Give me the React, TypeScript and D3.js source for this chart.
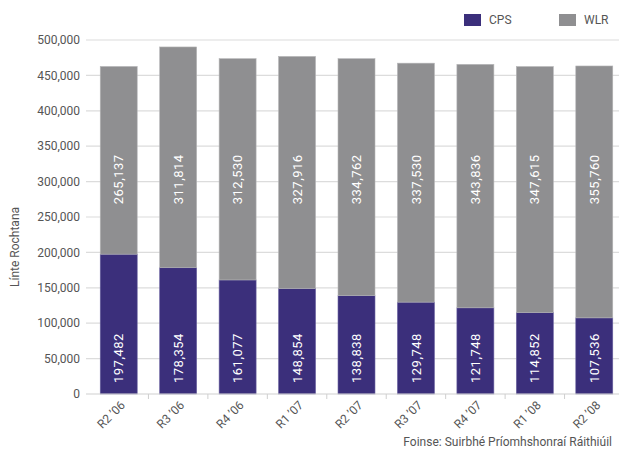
import * as d3 from "d3";
import React, { useEffect, useRef } from "react";

// data
const quarters = ["R2 ’06", "R3 ’06", "R4 ’06", "R1 ’07", "R2 ’07", "R3 ’07", "R4 ’07", "R1 ’08", "R2 ’08"];
const cpsValues = [197482, 178354, 161077, 148854, 138838, 129748, 121748, 114852, 107536];
const wlrValues = [265137, 311814, 312530, 327916, 334762, 337530, 343836, 347615, 355760];
const yTicks = [0, 50000, 100000, 150000, 200000, 250000, 300000, 350000, 400000, 450000, 500000];
const seriesNames = ["CPS", "WLR"];

const App: React.FC = () => {
  const svgRef = useRef<SVGSVGElement>(null);
  const isRender = useRef(false);

  useEffect(() => {
    if (isRender.current || !svgRef.current) return;
    isRender.current = true;

    const width = 619, height = 451;
    const font = "Roboto, 'DejaVu Sans', sans-serif";
    const textColor = "#555";
    const cpsColor = "#3b2f7b";
    const wlrColor = "#8f8f91";

    const svg = d3.select(svgRef.current)
      .attr("width", width)
      .attr("height", height)
      .style("font-family", font);

    const x = d3.scaleBand<string>()
      .domain(quarters)
      .range([89, 624])
      .paddingInner(0.378)
      .paddingOuter(0.189);

    const y = d3.scaleLinear().domain([0, 500000]).range([394, 40]);
    const fmt = d3.format(",");

    // grid lines
    svg.append("g")
      .selectAll("line")
      .data(yTicks.filter(d => d > 0))
      .enter()
      .append("line")
      .attr("x1", 86)
      .attr("x2", width)
      .attr("y1", d => y(d))
      .attr("y2", d => y(d))
      .attr("stroke", "#dcdcdc")
      .attr("stroke-width", 1.2);

    // y tick labels
    svg.append("g")
      .selectAll("text")
      .data(yTicks)
      .enter()
      .append("text")
      .attr("x", 80)
      .attr("y", d => y(d))
      .attr("dy", "0.35em")
      .attr("text-anchor", "end")
      .style("font-size", "12px")
      .style("fill", textColor)
      .text(d => fmt(d));

    // bars
    const step = x.step();
    const bars = svg.append("g");
    bars.selectAll("rect.cps")
      .data(quarters)
      .enter()
      .append("rect")
      .attr("class", "cps")
      .attr("x", d => x(d)!)
      .attr("width", x.bandwidth())
      .attr("y", (_, i) => y(cpsValues[i]))
      .attr("height", (_, i) => y(0) - y(cpsValues[i]))
      .attr("fill", cpsColor)
      .attr("stroke", "#6a62a0")
      .attr("stroke-width", 0.6);

    bars.selectAll("rect.wlr")
      .data(quarters)
      .enter()
      .append("rect")
      .attr("class", "wlr")
      .attr("x", d => x(d)!)
      .attr("width", x.bandwidth())
      .attr("y", (_, i) => y(cpsValues[i] + wlrValues[i]))
      .attr("height", (_, i) => y(cpsValues[i]) - y(cpsValues[i] + wlrValues[i]))
      .attr("fill", wlrColor)
      .attr("stroke", "#b5b5b7")
      .attr("stroke-width", 0.6);

    // x axis line & ticks
    svg.append("line")
      .attr("x1", 86)
      .attr("x2", width)
      .attr("y1", y(0))
      .attr("y2", y(0))
      .attr("stroke", "#cfcfcf")
      .attr("stroke-width", 1.2);

    svg.append("g")
      .selectAll("line")
      .data(quarters.slice(0, -1))
      .enter()
      .append("line")
      .attr("x1", d => x(d)! + x.bandwidth() / 2 + step / 2)
      .attr("x2", d => x(d)! + x.bandwidth() / 2 + step / 2)
      .attr("y1", y(0))
      .attr("y2", y(0) + 5)
      .attr("stroke", "#cfcfcf");

    // x labels
    svg.append("g")
      .selectAll("text")
      .data(quarters)
      .enter()
      .append("text")
      .attr("transform", d => `translate(${x(d)! + x.bandwidth() / 2 + 4},${y(0) + 9}) rotate(-45)`)
      .attr("text-anchor", "end")
      .attr("dy", "0.35em")
      .style("font-size", "12px")
      .style("fill", textColor)
      .text(d => d);

    // value labels
    const labels = svg.append("g").style("font-size", "13px").style("fill", "#fff");
    labels.selectAll("text.cps")
      .data(quarters)
      .enter()
      .append("text")
      .attr("transform", d => `translate(${x(d)! + x.bandwidth() / 2},${y(0) - 11}) rotate(-90)`)
      .attr("dy", "0.35em")
      .attr("text-anchor", "start")
      .style("letter-spacing", "0.5px")
      .text((_, i) => fmt(cpsValues[i]));

    labels.selectAll("text.wlr")
      .data(quarters)
      .enter()
      .append("text")
      .attr("transform", d => `translate(${x(d)! + x.bandwidth() / 2},${y(268000)}) rotate(-90)`)
      .attr("dy", "0.35em")
      .attr("text-anchor", "start")
      .style("letter-spacing", "0.5px")
      .text((_, i) => fmt(wlrValues[i]));

    // y axis title
    svg.append("text")
      .attr("transform", "translate(15,247) rotate(-90)")
      .attr("text-anchor", "middle")
      .attr("dy", "0.35em")
      .style("font-size", "12px")
      .style("fill", textColor)
      .text("Línte Rochtana");

    // legend
    const legendX = [464, 559];
    const legend = svg.append("g");
    seriesNames.forEach((name, i) => {
      legend.append("rect")
        .attr("x", legendX[i])
        .attr("y", 14)
        .attr("width", 17)
        .attr("height", 12)
        .attr("fill", i === 0 ? cpsColor : wlrColor);
      legend.append("text")
        .attr("x", legendX[i] + 25)
        .attr("y", 20)
        .attr("dy", "0.35em")
        .style("font-size", "12px")
        .style("fill", textColor)
        .text(name);
    });

    // source
    svg.append("text")
      .attr("x", 612)
      .attr("y", 446)
      .attr("text-anchor", "end")
      .style("font-size", "12px")
      .style("fill", textColor)
      .text("Foinse: Suirbhé Príomhshonraí Ráithiúil");
  }, []);

  return (
    <div style={{ position: "fixed", left: 0, top: 0, background: "#fff" }}>
      <svg ref={svgRef} style={{ display: "block" }} />
    </div>
  );
};

export default App;
